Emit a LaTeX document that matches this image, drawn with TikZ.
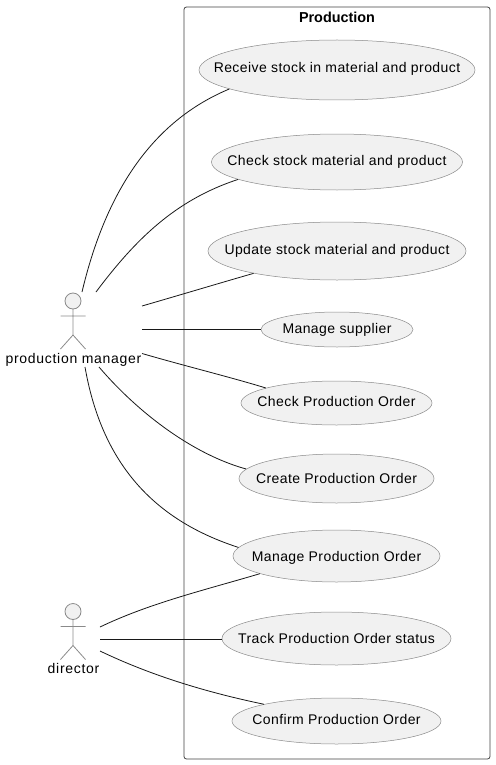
\documentclass[tikz,border=0pt]{standalone}
\usepackage{fontspec}
\setmainfont{Liberation Sans}
\newfontfamily\casefont[LetterSpace=3]{Liberation Sans}
\newfontfamily\actorfont[LetterSpace=5]{Liberation Sans}
\usetikzlibrary{shapes.geometric}
\definecolor{usefill}{HTML}{F1F1F1}
\definecolor{useline}{HTML}{8A8A8A}
\definecolor{wire}{HTML}{181818}
\newcommand{\casetext}[2][3pt]{\raisebox{-#1}[0pt][0pt]{\makebox[0pt]{#2}}}
\tikzset{
  usecase/.style={ellipse, draw=useline, fill=usefill, line width=0.5pt, inner sep=0pt, font=\fontsize{14}{16}\casefont},
  actorname/.style={inner sep=0pt, font=\fontsize{14}{16}\actorfont},
  wireline/.style={draw=wire, line width=0.8pt},
  actor/.pic={
    \draw[useline, line width=0.8pt, fill=usefill] (0,0) circle (8);
    \draw[useline, line width=0.8pt] (0,8) -- (0,34) (-12.5,15) -- (12.5,15) (-12.5,48) -- (0,34) -- (12.5,48);
  }
}
\begin{document}
\begin{tikzpicture}[x=1pt, y=-1pt]
  \useasboundingbox (0,0) rectangle (495,765);

  % System boundary
  \node[draw=black!75, line width=0.8pt, rounded corners=2.5pt, minimum width=306pt, minimum height=752pt, inner sep=0pt] (production) at (337,383) {};
  \node[inner sep=0pt, font=\fontsize{14.4}{16}\selectfont\bfseries] (title) at (337,17) {Production};

  % Actors
  \pic at (73,301) {actor};
  \node[actorname] (manager) at (73.5,360) {production manager};
  \pic at (73,611.5) {actor};
  \node[actorname] (director) at (73.5,668) {director};

  % Use cases
  \node[usecase, minimum width=276pt, minimum height=60pt] (receive) at (337,70) {\casetext{Receive stock in material and product}};
  \node[usecase, minimum width=251pt, minimum height=56pt] (check) at (337,162) {\casetext{Check stock material and product}};
  \node[usecase, minimum width=258pt, minimum height=58pt] (update) at (337,251) {\casetext{Update stock material and product}};
  \node[usecase, minimum width=152pt, minimum height=35pt] (supplier) at (337,329.5) {\casetext[4pt]{Manage supplier}};
  \node[usecase, minimum width=191pt, minimum height=44pt] (checkorder) at (336.5,403) {\casetext{Check Production Order}};
  \node[usecase, minimum width=195pt, minimum height=49pt] (createorder) at (336.5,478.5) {\casetext[4.5pt]{Create Production Order}};
  \node[usecase, minimum width=207pt, minimum height=52pt] (manageorder) at (336.5,556) {\casetext[5pt]{Manage Production Order}};
  \node[usecase, minimum width=229pt, minimum height=53pt] (trackorder) at (336.5,638.5) {\casetext[4.5pt]{Track Production Order status}};
  \node[usecase, minimum width=209pt, minimum height=46pt] (confirmorder) at (336.5,721) {\casetext{Confirm Production Order}};

  % Free ends at the actors
  \coordinate (m1) at (82,292);
  \coordinate (m2) at (96,292);
  \coordinate (m3) at (142,306);
  \coordinate (m4) at (142,329.5);
  \coordinate (m5) at (142,353.5);
  \coordinate (m6) at (99,367);
  \coordinate (m7) at (85,367);
  \coordinate (d1) at (100,627);
  \coordinate (d2) at (100,639);
  \coordinate (d3) at (100,651);

  % Arrows
  \draw[wireline] (m1) .. controls (105,195) and (150,122) .. (receive.190);
  \draw[wireline] (m2) .. controls (135,240) and (175,200) .. (check.190);
  \draw[wireline] (m3) .. controls (180,295) and (220,283) .. (update.195);
  \draw[wireline] (m4) -- (m4 -| supplier.west);
  \draw[wireline] (m5) .. controls (185,366) and (230,377) .. (checkorder.168);
  \draw[wireline] (m6) .. controls (140,415) and (195,455) .. (createorder.174);
  \draw[wireline] (m7) .. controls (103,470) and (160,522) .. (manageorder.175);

  \draw[wireline] (d1) .. controls (150,603) and (205,590) .. (manageorder.193);
  \draw[wireline] (d2) -- (d2 -| trackorder.west);
  \draw[wireline] (d3) .. controls (150,675) and (205,692) .. (confirmorder.167);
\end{tikzpicture}
\end{document}
